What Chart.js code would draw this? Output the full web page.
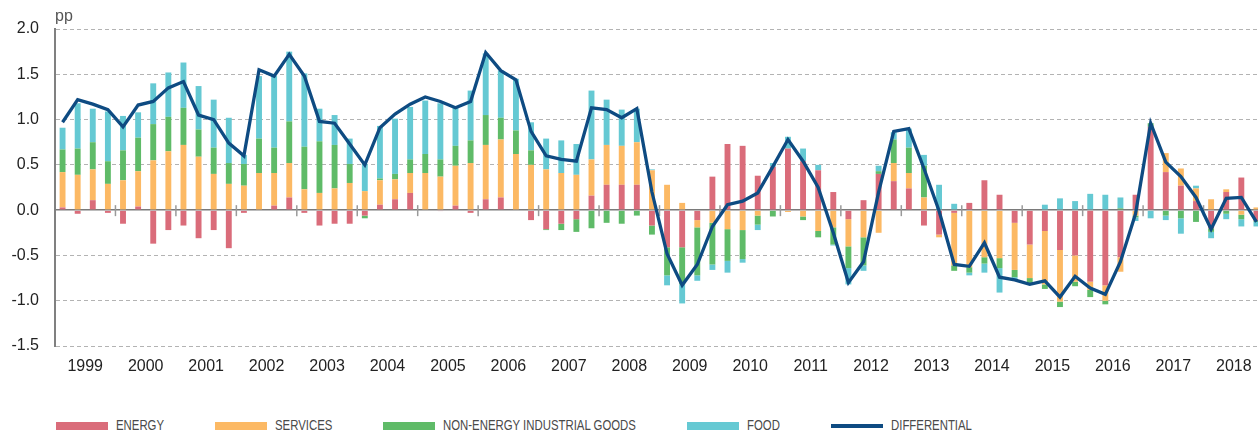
<!DOCTYPE html>
<html><head><meta charset="utf-8">
<script src="https://cdn.jsdelivr.net/npm/chart.js@4.4.0/dist/chart.umd.min.js"></script>
<style>
html,body{margin:0;padding:0;background:#fff;overflow:hidden;width:1258px;height:432px}
#wrap{position:absolute;left:0;top:0;width:1264px;height:386px}
#unit{position:absolute;left:55px;top:8px;font:16px "Liberation Sans",Arial,sans-serif;color:#555;line-height:16px}
#legend{position:absolute;left:56px;top:417px;height:17px;display:flex;align-items:center;font:14.5px "Liberation Sans",Arial,sans-serif;color:#4a4a4a;white-space:nowrap}
.item{display:flex;align-items:center;margin-right:51px}
.sw{width:52px;margin-right:8px;flex:none}
.tw{display:block;overflow:visible;height:17px;line-height:17px}
.tx{display:inline-block;transform:scaleX(0.785);transform-origin:0 50%}
</style></head><body>
<div id="wrap"><canvas id="c"></canvas></div>
<div id="unit">pp</div>
<div id="legend"></div>
<script>
const years = ['1999','2000','2001','2002','2003','2004','2005','2006','2007','2008','2009','2010','2011','2012','2013','2014','2015','2016','2017','2018'];
const quarters = years.flatMap(y => ['Q1','Q2','Q3','Q4'].map(q => y + ' ' + q));
const yTicks = [-1.5, -1.0, -0.5, 0.0, 0.5, 1.0, 1.5, 2.0];

const energy = [
  0.03,-0.04,0.11,-0.03,  -0.15,0.04,-0.37,-0.22,  -0.17,-0.31,-0.22,-0.42,  -0.03,0.00,0.05,0.14,
  -0.03,-0.17,-0.15,-0.15,  -0.06,0.06,0.12,0.19,  0.00,-0.01,0.05,-0.03,  0.12,0.14,0.00,-0.11,
  -0.21,-0.15,-0.10,0.16,  0.28,0.28,0.28,-0.17,  -0.41,-0.41,-0.11,0.37,  0.73,0.71,0.38,0.48,
  0.68,0.54,0.44,0.20,  -0.10,0.11,0.40,0.32,  0.24,-0.17,-0.27,-0.03,  0.08,0.33,0.17,-0.14,
  -0.38,-0.23,-0.44,-0.50,  -0.79,-0.83,-0.52,0.17,  0.92,0.42,0.27,0.10,  -0.20,0.20,0.36,-0.12];
const services = [
  0.39,0.39,0.34,0.29,  0.33,0.39,0.55,0.65,  0.72,0.59,0.40,0.29,  0.27,0.41,0.36,0.38,
  0.23,0.19,0.24,0.30,  0.21,0.27,0.22,0.22,  0.41,0.37,0.44,0.52,  0.60,0.64,0.62,0.50,
  0.45,0.41,0.39,0.40,  0.44,0.43,0.47,0.44,  0.28,0.08,-0.08,-0.14,  -0.21,-0.22,-0.06,0.00,
  -0.02,-0.07,-0.23,-0.19,  -0.30,-0.30,-0.25,0.20,  0.17,0.14,-0.03,-0.58,  -0.63,-0.52,-0.53,-0.52,
  -0.37,-0.59,-0.57,-0.29,  -0.09,-0.17,-0.16,-0.06,  0.00,0.21,0.19,0.14,  0.12,0.03,-0.05,0.03];
const nonEnergyGoods = [
  0.25,0.29,0.30,0.25,  0.33,0.37,0.40,0.38,  0.41,0.30,0.29,0.23,  0.24,0.38,0.28,0.46,
  0.47,0.57,0.48,0.21,  -0.03,0.02,0.06,0.15,  0.21,0.19,0.22,0.25,  0.33,0.24,0.26,0.16,
  -0.01,-0.07,-0.14,-0.20,  -0.14,-0.15,-0.06,-0.10,  -0.31,-0.41,-0.53,-0.46,  -0.35,-0.32,-0.10,-0.07,
  0.00,-0.04,-0.07,-0.19,  -0.24,-0.31,0.03,0.26,  0.28,0.35,0.00,-0.06,  -0.06,-0.07,-0.11,-0.08,
  -0.06,-0.05,-0.06,-0.05,  -0.08,-0.04,0.02,-0.02,  0.04,-0.06,-0.09,-0.13,  -0.04,-0.04,-0.05,-0.01];
const food = [
  0.24,0.50,0.37,0.55,  0.38,0.28,0.45,0.49,  0.50,0.48,0.53,0.50,  0.10,0.69,0.79,0.77,
  0.81,0.36,0.33,0.28,  0.30,0.58,0.61,0.58,  0.59,0.62,0.42,0.55,  0.68,0.52,0.57,0.31,
  0.34,0.36,0.34,0.76,  0.50,0.40,0.37,0.01,  -0.11,-0.21,-0.06,-0.06,  -0.13,-0.04,-0.06,0.04,
  0.13,0.14,0.06,-0.01,  -0.18,-0.06,0.06,0.08,  0.21,0.12,0.28,0.07,  -0.03,-0.10,-0.27,-0.02,
  0.00,0.06,0.13,0.10,  0.18,0.17,0.12,-0.04,  -0.09,-0.05,-0.17,0.03,  -0.07,-0.06,-0.08,-0.05];
const differential = [
  0.97,1.22,1.17,1.11,  0.92,1.16,1.20,1.35,  1.42,1.05,1.00,0.74,  0.60,1.55,1.48,1.72,
  1.48,0.98,0.96,0.73,  0.50,0.91,1.06,1.17,  1.25,1.20,1.13,1.20,  1.74,1.54,1.44,0.87,
  0.60,0.56,0.54,1.13,  1.11,1.02,1.12,0.20,  -0.48,-0.83,-0.60,-0.18,  0.06,0.10,0.19,0.48,
  0.78,0.54,0.25,-0.25,  -0.80,-0.57,0.20,0.87,  0.90,0.46,-0.01,-0.60,  -0.62,-0.36,-0.74,-0.77,
  -0.82,-0.78,-0.96,-0.73,  -0.86,-0.93,-0.57,-0.04,  0.96,0.53,0.37,0.14,  -0.21,0.13,0.14,-0.13];

const FONT = '"Liberation Sans", Arial, sans-serif';

const yearTicks = {
  id: 'yearTicks',
  beforeDatasetsDraw(chart) {
    const x = chart.scales.x, y = chart.scales.y, ctx = chart.ctx;
    const y0 = y.getPixelForValue(0);
    ctx.save();
    ctx.strokeStyle = '#9a9a9a';
    ctx.lineWidth = 1.5;
    for (let k = 4; k < quarters.length; k += 4) {
      const px = (x.getPixelForValue(k - 1) + x.getPixelForValue(k)) / 2;
      ctx.beginPath();
      ctx.moveTo(px, y0 - 5);
      ctx.lineTo(px, y0 + 6);
      ctx.stroke();
    }
    ctx.restore();
  }
};

const barDefaults = {type: 'bar', barPercentage: 0.39, categoryPercentage: 1, borderWidth: 0, order: 1, xAxisID: 'x'};

const chart = new Chart(document.getElementById('c'), {
  data: {
    labels: quarters,
    datasets: [
      Object.assign({label: 'ENERGY', data: energy, backgroundColor: '#da6c7a'}, barDefaults),
      Object.assign({label: 'SERVICES', data: services, backgroundColor: '#fcb964'}, barDefaults),
      Object.assign({label: 'NON-ENERGY INDUSTRIAL GOODS', data: nonEnergyGoods, backgroundColor: '#5fbb68'}, barDefaults),
      Object.assign({label: 'FOOD', data: food, backgroundColor: '#65c9d3'}, barDefaults),
      {type: 'line', label: 'DIFFERENTIAL', data: differential, borderColor: '#0e4b82', backgroundColor: '#0e4b82',
       borderWidth: 3.3, pointRadius: 0, tension: 0, order: 0, stack: 'line', xAxisID: 'x'}
    ]
  },
  options: {
    responsive: true,
    maintainAspectRatio: false,
    animation: false,
    layout: {padding: {top: 29, left: 0, right: 0, bottom: 0}},
    plugins: {legend: {display: false}, tooltip: {enabled: false}},
    scales: {
      x: {type: 'category', stacked: true, display: false, offset: true},
      x2: {
        type: 'category', labels: years, position: 'bottom', offset: true,
        grid: {display: false, drawTicks: false}, border: {display: false},
        ticks: {color: '#222', font: {family: FONT, size: 16}, padding: 11, maxRotation: 0, autoSkip: false},
        afterFit(s) { s.height = 40; }
      },
      y: {
        stacked: true, min: -1.5, max: 2.0,
        afterBuildTicks(s) { s.ticks = yTicks.map(v => ({value: v})); },
        afterFit(s) { s.width = 55; },
        grid: {
          drawTicks: false,
          color: c => (c.tick && c.tick.value === 0) ? '#7a7a7a' : '#b3b3b3',
          lineWidth: c => (c.tick && c.tick.value === 0) ? 1.5 : 1
        },
        border: {display: true, color: '#808080', width: 2,
          dash: c => (c.tick && c.tick.value === 0) ? [] : [4, 3]},
        ticks: {color: '#222', font: {family: FONT, size: 16}, padding: 16,
          callback: v => Number(v).toFixed(1)}
      }
    }
  },
  plugins: [yearTicks]
});

const legend = document.getElementById('legend');
const SCALE_X = 0.785;
chart.data.datasets.forEach(ds => {
  const item = document.createElement('div');
  item.className = 'item';
  const sw = document.createElement('div');
  sw.className = 'sw';
  sw.style.height = ds.type === 'line' ? '4px' : '8px';
  sw.style.background = ds.type === 'line' ? ds.borderColor : ds.backgroundColor;
  const tw = document.createElement('div');
  tw.className = 'tw';
  const tx = document.createElement('span');
  tx.className = 'tx';
  tx.textContent = ds.label;
  tw.appendChild(tx);
  item.appendChild(sw);
  item.appendChild(tw);
  legend.appendChild(item);
  tw.style.width = (tx.offsetWidth * SCALE_X) + 'px';
});
</script>
</body></html>
